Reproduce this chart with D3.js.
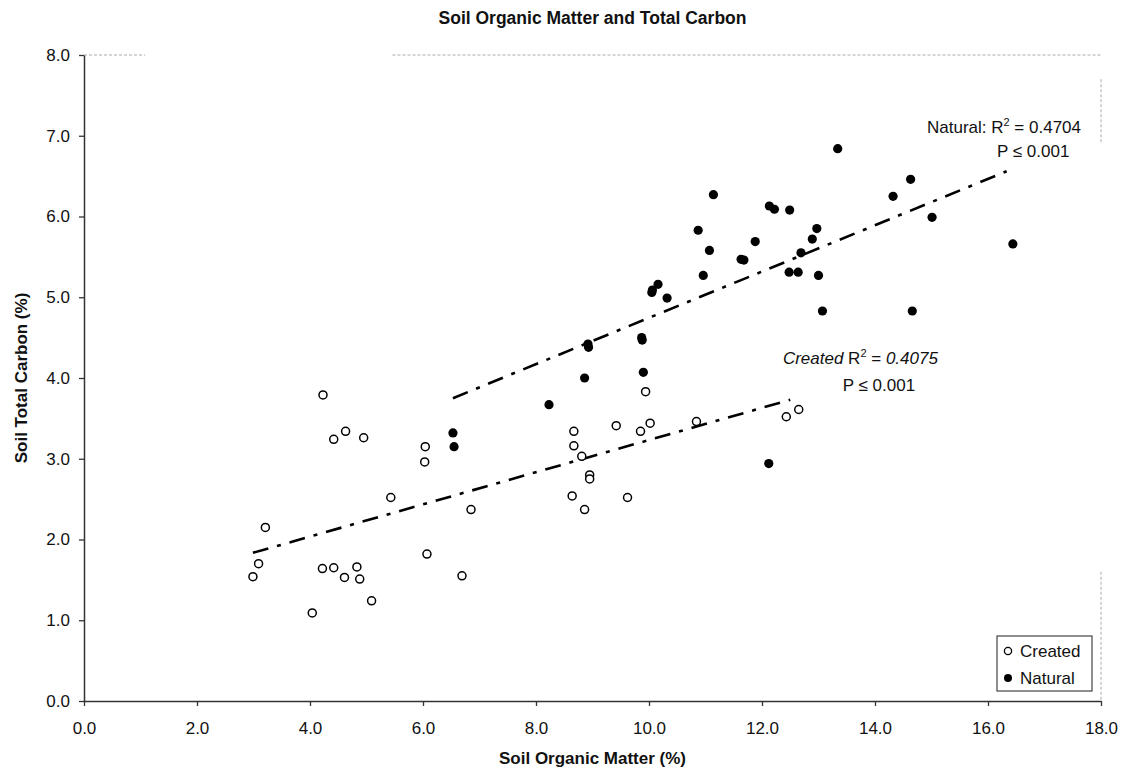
<!DOCTYPE html>
<html>
<head>
<meta charset="utf-8">
<script src="https://cdn.jsdelivr.net/npm/d3@7"></script>
<style>
  html, body { margin: 0; padding: 0; background: #fff; }
  svg { display: block; font-family: "Liberation Sans", Arial, sans-serif; }
</style>
</head>
<body>
<svg id="chart" width="1126" height="776"></svg>
<script>
// ---- Data ----
const createdOM = [4.23,4.63,4.42,4.95,6.04,6.03,5.43,6.85,3.21,3.09,2.99,4.22,4.42,4.83,4.61,4.88,6.07,6.69,5.09,4.04,
                   9.94,8.67,8.67,8.81,9.42,9.85,10.02,10.84,8.95,8.95,8.64,9.62,8.86,12.43,12.65];
const createdTC = [3.79,3.34,3.24,3.26,3.15,2.96,2.52,2.37,2.15,1.70,1.54,1.64,1.65,1.66,1.53,1.51,1.82,1.55,1.24,1.09,
                   3.83,3.34,3.16,3.03,3.41,3.34,3.44,3.46,2.80,2.75,2.54,2.52,2.37,3.52,3.61];
const naturalOM = [6.53,6.55,8.23,8.86,8.93,8.92,9.87,9.88,9.90,13.34,14.63,14.32,15.01,11.14,12.13,12.22,12.49,10.87,12.97,
                   12.89,11.88,11.07,12.69,11.63,11.68,10.96,12.48,12.64,13.00,10.16,10.05,10.06,10.32,13.07,14.66,16.44,12.12];
const naturalTC = [3.32,3.15,3.67,4.00,4.38,4.42,4.50,4.47,4.07,6.84,6.46,6.25,5.99,6.27,6.13,6.09,6.08,5.83,5.85,
                   5.72,5.69,5.58,5.55,5.47,5.46,5.27,5.31,5.31,5.27,5.16,5.06,5.09,4.99,4.83,4.83,5.66,2.94];
// trend lines (endpoints in data units)
const createdFitX = [2.99, 12.50];
const createdFitY = [1.835, 3.73];
const naturalFitX = [6.53, 16.33];
const naturalFitY = [3.75, 6.56];
const xTicks = [0,2,4,6,8,10,12,14,16,18];
const yTicks = [0,1,2,3,4,5,6,7,8];
const seriesNames = ["Created", "Natural"];

const svg = d3.select("#chart");
const W = 1126, H = 776;
const m = {left: 84, right: 25, top: 55, bottom: 75};
const x = d3.scaleLinear().domain([0, 18]).range([m.left, W - m.right]);
const y = d3.scaleLinear().domain([0, 8]).range([H - m.bottom, m.top]);
const FONT = 17;

// faint scanned frame (top and right)
const frame = svg.append("g").attr("stroke", "#aaa").attr("stroke-width", 1).attr("stroke-dasharray", "3,2").attr("fill", "none");
frame.append("line").attr("x1", x(0)).attr("x2", x(1.08)).attr("y1", y(8)).attr("y2", y(8));
frame.append("line").attr("x1", x(5.46)).attr("x2", x(18)).attr("y1", y(8)).attr("y2", y(8));
frame.append("line").attr("x1", x(18)).attr("x2", x(18)).attr("y1", y(7.7)).attr("y2", y(6.9));
frame.append("line").attr("x1", x(18)).attr("x2", x(18)).attr("y1", y(1.6)).attr("y2", y(0));

// axes
const xAxis = svg.append("g").attr("transform", `translate(0,${y(0)})`)
  .call(d3.axisBottom(x).tickValues(xTicks).tickFormat(d => d.toFixed(1)).tickSize(5).tickSizeOuter(0).tickPadding(16));
const yAxis = svg.append("g").attr("transform", `translate(${x(0)},0)`)
  .call(d3.axisLeft(y).tickValues(yTicks).tickFormat(d => d.toFixed(1)).tickSize(5).tickSizeOuter(0).tickPadding(9));
[xAxis, yAxis].forEach(g => {
  g.selectAll("path.domain").attr("stroke", "#333").attr("stroke-width", 1.5);
  g.selectAll(".tick line").attr("stroke", "#333").attr("stroke-width", 1.3);
  g.selectAll(".tick text").attr("fill", "#111").style("font-size", FONT + "px").style("font-family", "'Liberation Sans', Arial, sans-serif");
});

// trend lines
const line = d3.line().x(d => x(d[0])).y(d => y(d[1]));
[[createdFitX, createdFitY], [naturalFitX, naturalFitY]].forEach(([fx, fy]) => {
  svg.append("path")
    .datum(fx.map((v, i) => [v, fy[i]]))
    .attr("d", line)
    .attr("fill", "none").attr("stroke", "#000").attr("stroke-width", 2.6)
    .attr("stroke-dasharray", "16,9,4,9");
});

// points
svg.append("g").selectAll("circle")
  .data(createdOM.map((v, i) => [v, createdTC[i]]))
  .join("circle")
  .attr("cx", d => x(d[0])).attr("cy", d => y(d[1])).attr("r", 4)
  .attr("fill", "#fff").attr("stroke", "#000").attr("stroke-width", 1.5);
svg.append("g").selectAll("circle")
  .data(naturalOM.map((v, i) => [v, naturalTC[i]]))
  .join("circle")
  .attr("cx", d => x(d[0])).attr("cy", d => y(d[1])).attr("r", 4.6)
  .attr("fill", "#000");

// annotations
function annot(px, py, parts) {
  const t = svg.append("text").attr("x", x(px)).attr("y", y(py)).style("font-size", FONT + "px").attr("fill", "#111");
  parts.forEach(p => {
    const s = t.append("tspan").text(p.t);
    if (p.sup) s.style("font-size", "11px").attr("dy", -7);
    if (p.after) s.attr("dy", 7);
    if (p.it) s.style("font-style", "italic");
  });
}
annot(14.92, 7.03, [{t: "Natural: R"}, {t: "2", sup: true}, {t: " = 0.4704", after: true}]);
annot(16.16, 6.74, [{t: "P \u2264 0.001"}]);
annot(12.37, 4.17, [{t: "Created", it: true}, {t: " R"}, {t: "2", sup: true}, {t: " = ", after: true}, {t: "0.4075", it: true}]);
annot(13.43, 3.84, [{t: "P \u2264 0.001"}]);

// title and axis titles
svg.append("text").attr("x", (x(0) + x(18)) / 2).attr("y", 24).attr("text-anchor", "middle")
  .style("font-size", "17.5px").style("font-weight", "bold").attr("fill", "#111")
  .text("Soil Organic Matter and Total Carbon");
svg.append("text").attr("x", (x(0) + x(18)) / 2).attr("y", 764).attr("text-anchor", "middle")
  .style("font-size", FONT + "px").style("font-weight", "bold").attr("fill", "#111")
  .text("Soil Organic Matter (%)");
svg.append("text").attr("transform", `translate(27,${(y(0) + y(8)) / 2}) rotate(-90)`).attr("text-anchor", "middle")
  .style("font-size", FONT + "px").style("font-weight", "bold").attr("fill", "#111")
  .text("Soil Total Carbon (%)");

// legend
const lg = svg.append("g").attr("transform", "translate(997,636)");
lg.append("rect").attr("width", 95).attr("height", 55).attr("fill", "#fff").attr("stroke", "#444").attr("stroke-width", 1.2);
seriesNames.forEach((name, i) => {
  const cy = 15 + i * 27;
  const c = lg.append("circle").attr("cx", 11).attr("cy", cy).attr("r", i === 0 ? 3.6 : 4);
  if (i === 0) c.attr("fill", "#fff").attr("stroke", "#000").attr("stroke-width", 1.3);
  else c.attr("fill", "#000");
  lg.append("text").attr("x", 23).attr("y", cy + 6).style("font-size", FONT + "px").attr("fill", "#111").text(name);
});
</script>
</body>
</html>
